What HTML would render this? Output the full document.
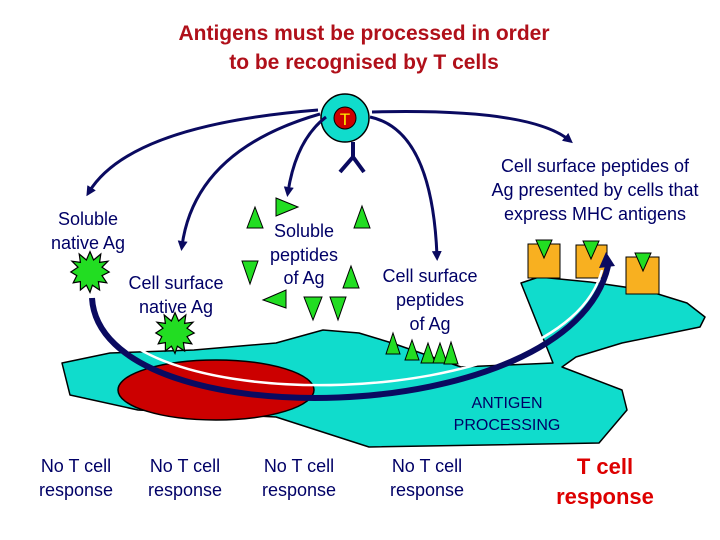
<!DOCTYPE html>
<html><head><meta charset="utf-8"><style>
html,body{margin:0;padding:0;background:#fff;}
svg{display:block;font-family:"Liberation Sans",Arial,sans-serif;}
</style></head><body>
<svg width="720" height="540" viewBox="0 0 720 540" xmlns="http://www.w3.org/2000/svg">
<defs>
<marker id="ah" markerWidth="10" markerHeight="10" refX="5" refY="5" orient="auto" markerUnits="userSpaceOnUse">
<path d="M0,0 L10,5 L0,10 Z" fill="#0a0a60"/></marker>
</defs>
<text x="364" y="40" text-anchor="middle" font-size="21" font-weight="bold" fill="#b0101a">Antigens must be processed in order</text>
<text x="364" y="69" text-anchor="middle" font-size="21" font-weight="bold" fill="#b0101a">to be recognised by T cells</text>

<path d="M62,363 L110,353 L194,350 L276,343 L323,330 L359,333 L392,343 L461,367 L553,363 L521,283 L539,277 L590,282 L645,290 L687,303 L705,317 L700,327 L622,343 L576,357 L562,367 L622,390 L627,410 L599,443 L369,447 L276,417 L138,410 L70,395 Z" fill="#10dccc" stroke="#000" stroke-width="1.5" stroke-linejoin="round"/>
<ellipse cx="216" cy="390" rx="98" ry="30" fill="#cc0000" stroke="#000" stroke-width="1.5"/>

<rect x="528" y="244" width="32" height="34" fill="#f8b020" stroke="#000"/>
<rect x="576" y="245" width="31" height="33" fill="#f8b020" stroke="#000"/>
<rect x="626" y="257" width="33" height="37" fill="#f8b020" stroke="#000"/>
<polygon points="536,240 552,240 544,258" fill="#22dd22" stroke="#000"/>
<polygon points="583,241 599,241 591,259" fill="#22dd22" stroke="#000"/>
<polygon points="635,253 651,253 643,271" fill="#22dd22" stroke="#000"/>

<path d="M92,298 C100,440 570,432 608,266" fill="none" stroke="#0a0a60" stroke-width="6"/>
<path d="M101,300 C114,420 565,416 602,270" fill="none" stroke="#fff" stroke-width="2.5"/>
<polygon points="599,268 606,252 615,266" fill="#0a0a60"/>

<circle cx="345" cy="118" r="24" fill="#10dccc" stroke="#000" stroke-width="1.5"/>
<circle cx="345" cy="118" r="11" fill="#cc0000" stroke="#000"/>
<text x="345" y="125" text-anchor="middle" font-size="17" fill="#ffee00">T</text>
<path d="M353,142 L353,158 M353,157 L340,172 M353,157 L364,172" stroke="#0a0a60" stroke-width="4" fill="none"/>

<g fill="none" stroke="#0a0a60" stroke-width="3">
<path d="M318,110 Q130,125 89,192" marker-end="url(#ah)"/>
<path d="M320,114 Q195,150 182,246" marker-end="url(#ah)"/>
<path d="M326,117 Q296,140 288,192" marker-end="url(#ah)"/>
<path d="M370,117 Q432,130 437,256" marker-end="url(#ah)"/>
<path d="M372,112 Q530,108 569,140" marker-end="url(#ah)"/>
</g>

<g fill="#22dd22" stroke="#000" stroke-width="1">
<polygon transform="translate(90,272) scale(1.2) translate(-90,-272)" points="90,255 93,262 99,257 98,264 105,263 100,268 106,272 100,275 104,281 97,280 98,287 92,283 90,289 87,283 82,287 82,280 76,281 79,275 74,272 80,268 75,263 82,264 81,257 87,262"/>
<polygon transform="translate(175,333) scale(1.2) translate(-175,-333)" points="175,316 178,323 184,318 183,325 190,324 185,329 191,333 185,336 189,342 182,341 183,348 177,344 175,350 172,344 167,348 167,341 161,342 164,336 159,333 165,329 160,324 167,325 166,318 172,323"/>
</g>

<g fill="#22dd22" stroke="#000" stroke-width="1">
<polygon points="255,207 263,228 247,228"/>
<polygon points="276,198 298,207 276,216"/>
<polygon points="362,206 370,228 354,228"/>
<polygon points="242,261 258,261 250,284"/>
<polygon points="351,266 359,288 343,288"/>
<polygon points="286,290 286,308 263,300"/>
<polygon points="304,297 322,297 313,320"/>
<polygon points="330,297 346,297 338,320"/>
<polygon points="393,333 400,354 386,354"/>
<polygon points="412,340 419,360 405,360"/>
<polygon points="428,343 435,363 421,363"/>
<polygon points="440,343 447,363 433,363"/>
<polygon points="451,342 458,364 444,364"/>
</g>

<g font-size="18" fill="#000066" text-anchor="middle">
<text x="88" y="225">Soluble</text><text x="88" y="249">native Ag</text>
<text x="176" y="289">Cell surface</text><text x="176" y="313">native Ag</text>
<text x="304" y="237">Soluble</text><text x="304" y="261">peptides</text><text x="304" y="284">of Ag</text>
<text x="430" y="282">Cell surface</text><text x="430" y="306">peptides</text><text x="430" y="330">of Ag</text>
<text x="595" y="172">Cell surface peptides of</text><text x="595" y="196">Ag presented by cells that</text><text x="595" y="220">express MHC antigens</text>
<text x="507" y="408" font-size="16">ANTIGEN</text><text x="507" y="430" font-size="16">PROCESSING</text>
<text x="76" y="472">No T cell</text><text x="76" y="496">response</text>
<text x="185" y="472">No T cell</text><text x="185" y="496">response</text>
<text x="299" y="472">No T cell</text><text x="299" y="496">response</text>
<text x="427" y="472">No T cell</text><text x="427" y="496">response</text>
</g>
<g font-size="22" font-weight="bold" fill="#dd0000" text-anchor="middle">
<text x="605" y="474">T cell</text><text x="605" y="504">response</text>
</g>
</svg>
</body></html>
